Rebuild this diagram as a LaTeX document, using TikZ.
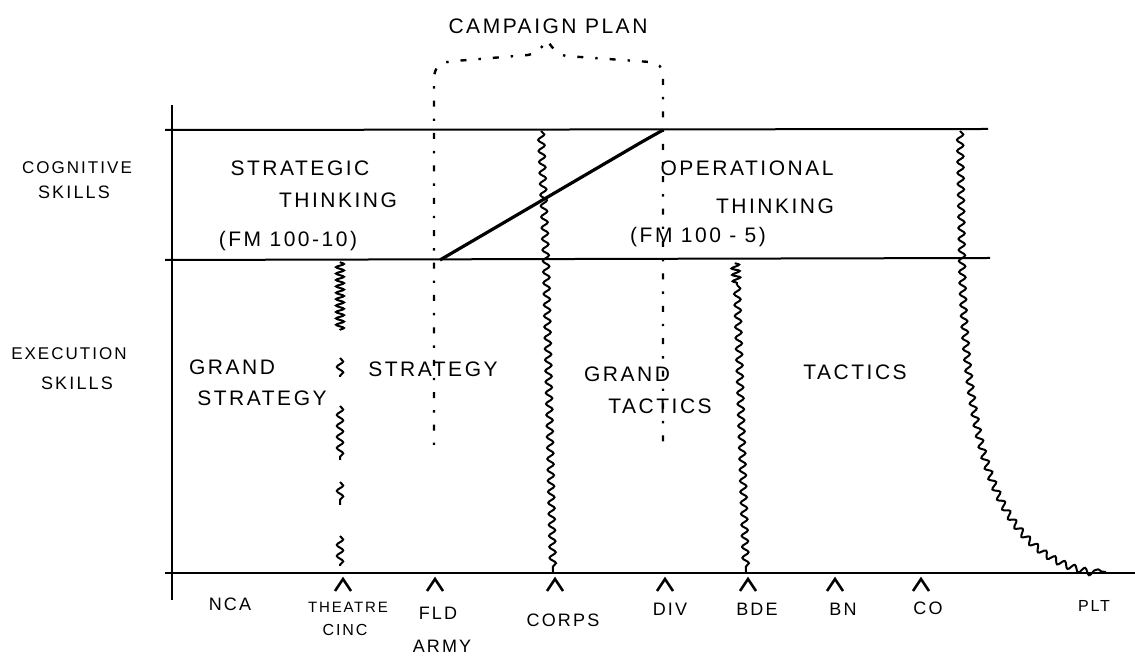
\documentclass[tikz,border=0pt]{standalone}
\usepackage{fontspec}
\setmainfont{Liberation Sans}[LetterSpace=12]
\usetikzlibrary{decorations.pathmorphing}
\begin{document}
\begin{tikzpicture}[x=0.5pt,y=-0.5pt,
  axis/.style={line width=1pt},
  diag/.style={line width=1.6pt},
  dots/.style={line width=1.2pt,dash pattern=on 1.2pt off 6pt on 3pt off 6pt},
  wig/.style={line width=1pt,decorate,decoration={snake,amplitude=1.6pt,segment length=5.5pt}},
  wigd/.style={line width=1pt,decorate,decoration={snake,amplitude=2pt,segment length=3.2pt}},
  caret/.style={line width=1.3pt},
  big/.style={font=\fontsize{10.5}{12}\selectfont},
  mid/.style={font=\fontsize{9}{11}\selectfont},
  row/.style={font=\fontsize{8.5}{10}\selectfont},
  sml/.style={font=\fontsize{8}{9}\selectfont},
  tiny/.style={font=\fontsize{7.5}{9}\selectfont}]
\useasboundingbox (0,0) rectangle (1135,672);

% frame coordinates
\coordinate (axT) at (172,105);
\coordinate (axB) at (172,600);
\coordinate (topL) at (165,130);
\coordinate (topR) at (988,129);
\coordinate (midL) at (165,260);
\coordinate (midR) at (990,258);
\coordinate (botL) at (165,573);
\coordinate (botR) at (1135,573);

\draw[axis] (axT) -- (axB);
\draw[axis] (topL) -- (topR);
\draw[axis] (midL) -- (midR);
\draw[axis] (botL) -- (botR);

% campaign plan brace
\coordinate (brL) at (434,445);
\coordinate (brR) at (663,445);
\coordinate (brP) at (547,40);
\draw[dots] (brL) -- (434,80) .. controls (434,66) and (440,62) .. (455,61) -- (528,55)
  .. controls (538,53) and (543,46) .. (brP)
  .. controls (551,46) and (556,54) .. (566,56) -- (650,62)
  .. controls (658,63) and (663,66) .. (663,78) -- (brR);
\node[big] (cp) at (548,26) {CAMPAIGN PLAN};

% diagonal
\coordinate (dgA) at (440,260);
\coordinate (dgB) at (663,130);
\draw[diag] (dgA) -- (640,143) -- (dgB);

% wavy boundaries
\coordinate (crT) at (541,131);
\coordinate (crM) at (546,260);
\coordinate (crB) at (553,572);
\draw[wig] (crT) -- (crM) -- (crB);

\coordinate (bdT) at (735,263);
\coordinate (bdB) at (746,572);
\draw[wigd] (bdT) -- (737,285);
\draw[wig] (737,285) -- (bdB);

\coordinate (coT) at (960,131);
\coordinate (coM) at (962,260);
\coordinate (plt) at (1106,572);
\draw[wig] (coT) -- (coM) .. controls (966,470) and (1005,562) .. (plt);

\coordinate (th1) at (340,262);
\coordinate (th2) at (340,330);
\draw[wigd] (th1) -- (th2);
\draw[wig] (340,358) -- (340,377);
\draw[wig] (340,406) -- (340,460);
\draw[wig] (340,482) -- (340,505);
\draw[wig] (340,536) -- (340,566);

% carets
\foreach \n/\x in {tTh/343,tFld/435,tCor/555,tDiv/665,tBde/748,tBn/835,tCo/921}{
  \coordinate (\n) at (\x,573);
  \draw[caret] (\n) ++(-8,18) -- ++(8,-12) -- ++(8,12);
}

% row labels
\node[row] (cog) at (77,168) {COGNITIVE};
\node[mid] (cogs) at (74,192) {SKILLS};
\node[row] (exe) at (69,354) {EXECUTION};
\node[mid] (exes) at (77,383) {SKILLS};

% cognitive texts
\node[big] (st1) at (300,168) {STRATEGIC};
\node[big] (st2) at (338,200) {THINKING};
\node[big] (st3) at (288,241) {(FM 100-10)};
\node[big] (op1) at (747,168) {OPERATIONAL};
\node[big] (op2) at (775,206) {THINKING};
\node[big] (op3) at (698,237) {(FM 100 - 5)};

% execution texts
\node[big] (gs1) at (232,367) {GRAND};
\node[big] (gs2) at (262,398) {STRATEGY};
\node[big] (sg) at (433,369) {STRATEGY};
\node[big] (gt1) at (627,374) {GRAND};
\node[big] (gt2) at (660,406) {TACTICS};
\node[big] (tc) at (855,372) {TACTICS};

% bottom labels
\node[mid] (nca) at (230,604) {NCA};
\node[tiny] (thr) at (348,607) {THEATRE};
\node[sml] (cinc) at (345,630) {CINC};
\node[mid] (fld) at (438,613) {FLD};
\node[mid] (army) at (442,646) {ARMY};
\node[mid] (corps) at (563,620) {CORPS};
\node[mid] (div) at (670,609) {DIV};
\node[mid] (bde) at (757,609) {BDE};
\node[mid] (bn) at (843,609) {BN};
\node[mid] (co) at (928,608) {CO};
\node[sml] (pl) at (1094,606) {PLT};
\end{tikzpicture}
\end{document}
